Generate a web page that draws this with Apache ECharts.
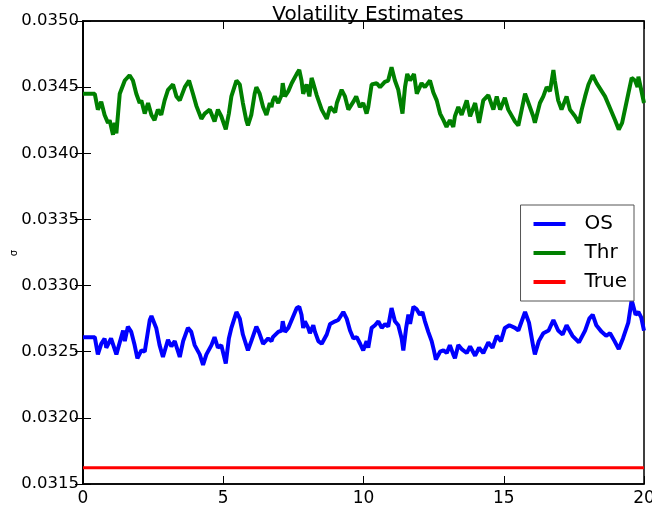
<!DOCTYPE html>
<html>
<head>
<meta charset="utf-8">
<script src="https://cdn.jsdelivr.net/npm/echarts@6/dist/echarts.min.js"></script>
<style>html,body{margin:0;padding:0;background:#fff;}#c{width:652px;height:506px;}</style>
</head>
<body>
<div id="c"></div>
<script>
const xTicks = [0, 5, 10, 15, 20];
const yTicks = [0.0315, 0.0320, 0.0325, 0.0330, 0.0335, 0.0340, 0.0345, 0.0350];

const osX = [0,0.42,0.53,0.65,0.77,0.83,1.0,1.19,1.43,1.49,1.6,1.72,1.84,1.94,2.08,2.2,2.38,2.44,2.61,2.73,2.85,3.03,3.15,3.27,3.45,3.57,3.74,3.86,3.98,4.16,4.28,4.4,4.58,4.69,4.81,4.93,5.09,5.2,5.29,5.47,5.59,5.7,5.88,6.0,6.18,6.27,6.42,6.6,6.72,6.77,6.96,7.08,7.12,7.2,7.32,7.44,7.62,7.71,7.79,7.85,7.91,8.03,8.09,8.21,8.27,8.39,8.51,8.69,8.81,8.99,9.1,9.28,9.4,9.52,9.64,9.76,9.88,9.99,10.11,10.17,10.29,10.41,10.53,10.65,10.77,10.88,11.0,11.12,11.24,11.36,11.42,11.52,11.6,11.66,11.78,11.9,12.01,12.1,12.19,12.31,12.43,12.51,12.58,12.73,12.85,12.97,13.08,13.2,13.26,13.38,13.5,13.68,13.8,13.98,14.12,14.27,14.45,14.6,14.75,14.9,15.04,15.2,15.4,15.52,15.76,15.9,16.05,16.11,16.25,16.41,16.6,16.77,16.94,17.1,17.24,17.45,17.68,17.9,18.05,18.17,18.3,18.49,18.65,18.79,18.95,19.1,19.25,19.44,19.56,19.7,19.8,19.9,20.0];
const osY = [0.03261,0.03261,0.03248,0.03256,0.03260,0.03253,0.03260,0.03248,0.03266,0.03258,0.03269,0.03265,0.03255,0.03245,0.03251,0.03250,0.03274,0.03277,0.03268,0.03255,0.03246,0.03259,0.03254,0.03258,0.03246,0.03258,0.03268,0.03265,0.03255,0.03248,0.03240,0.03248,0.03255,0.03261,0.03253,0.03255,0.03241,0.03260,0.03268,0.03280,0.03275,0.03263,0.03251,0.03258,0.03269,0.03265,0.03256,0.03260,0.03258,0.03261,0.03265,0.03266,0.03273,0.03265,0.03268,0.03274,0.03283,0.03284,0.03278,0.03268,0.03273,0.03268,0.03264,0.03270,0.03265,0.03258,0.03256,0.03263,0.03271,0.03273,0.03274,0.03280,0.03275,0.03266,0.03260,0.03261,0.03256,0.03251,0.03258,0.03253,0.03268,0.03270,0.03273,0.03268,0.03271,0.03269,0.03283,0.03273,0.03270,0.03260,0.03251,0.03268,0.03278,0.03271,0.03284,0.03282,0.03278,0.03280,0.03273,0.03265,0.03258,0.03251,0.03244,0.03250,0.03251,0.03249,0.03255,0.03248,0.03245,0.03255,0.03252,0.03249,0.03254,0.03247,0.03253,0.03249,0.03257,0.03253,0.03262,0.03258,0.03268,0.03270,0.03268,0.03266,0.03280,0.03272,0.03254,0.03248,0.03258,0.03264,0.03266,0.03274,0.03266,0.03263,0.03270,0.03262,0.03257,0.03266,0.03275,0.03278,0.03270,0.03265,0.03262,0.03264,0.03258,0.03252,0.03260,0.03272,0.03289,0.03278,0.03280,0.03276,0.03266];

const thrX = [0,0.42,0.53,0.65,0.77,0.89,0.95,1.07,1.13,1.19,1.31,1.49,1.66,1.78,1.9,2.02,2.08,2.2,2.32,2.44,2.55,2.67,2.79,2.91,3.03,3.21,3.33,3.45,3.63,3.78,3.92,4.04,4.22,4.34,4.52,4.69,4.81,4.93,5.09,5.2,5.29,5.47,5.59,5.7,5.82,5.88,6.0,6.12,6.18,6.3,6.42,6.54,6.66,6.72,6.77,6.84,6.96,7.08,7.12,7.2,7.32,7.44,7.62,7.71,7.79,7.85,7.97,8.07,8.15,8.21,8.33,8.51,8.69,8.81,8.99,9.05,9.22,9.34,9.46,9.64,9.74,9.87,9.99,10.11,10.17,10.29,10.47,10.59,10.76,10.88,11.0,11.12,11.24,11.39,11.48,11.56,11.66,11.8,11.9,12.07,12.19,12.37,12.49,12.61,12.73,12.85,12.96,13.08,13.2,13.26,13.38,13.5,13.68,13.8,13.98,14.12,14.27,14.45,14.63,14.75,14.87,15.04,15.16,15.4,15.52,15.64,15.76,15.88,16.05,16.11,16.29,16.41,16.53,16.65,16.77,16.82,16.94,17.06,17.24,17.36,17.54,17.68,17.78,17.9,18.02,18.17,18.31,18.49,18.61,18.79,18.97,19.1,19.22,19.34,19.44,19.56,19.68,19.77,19.8,19.9,20.0];
const thrY = [0.03445,0.03445,0.03433,0.03439,0.03429,0.03423,0.03425,0.03414,0.03423,0.03415,0.03445,0.03455,0.03459,0.03455,0.03445,0.03438,0.03440,0.03430,0.03438,0.03429,0.03425,0.03433,0.03429,0.03440,0.03448,0.03452,0.03443,0.03440,0.03450,0.03455,0.03445,0.03436,0.03426,0.03430,0.03433,0.03424,0.03433,0.03428,0.03418,0.03430,0.03443,0.03455,0.03452,0.03438,0.03425,0.03421,0.03429,0.03445,0.03450,0.03445,0.03435,0.03429,0.03438,0.03435,0.03440,0.03443,0.03438,0.03444,0.03453,0.03443,0.03447,0.03453,0.03460,0.03463,0.03455,0.03445,0.03452,0.03443,0.03457,0.03453,0.03444,0.03433,0.03426,0.03435,0.03431,0.03438,0.03448,0.03443,0.03433,0.03439,0.03443,0.03435,0.03438,0.03430,0.03435,0.03452,0.03453,0.03450,0.03454,0.03455,0.03465,0.03455,0.03448,0.03430,0.03450,0.03460,0.03455,0.03460,0.03445,0.03453,0.03450,0.03455,0.03446,0.03440,0.03430,0.03425,0.03420,0.03425,0.03420,0.03428,0.03435,0.03429,0.03440,0.03428,0.03438,0.03423,0.03440,0.03444,0.03433,0.03443,0.03433,0.03442,0.03433,0.03424,0.03421,0.03433,0.03445,0.03438,0.03428,0.03423,0.03438,0.03443,0.03450,0.03447,0.03463,0.03455,0.03440,0.03433,0.03443,0.03433,0.03428,0.03423,0.03433,0.03443,0.03452,0.03459,0.03453,0.03447,0.03443,0.03434,0.03425,0.03418,0.03423,0.03435,0.03445,0.03457,0.03455,0.03450,0.03458,0.03448,0.03438];

const trueX = [0, 20];
const trueY = [0.0316228, 0.0316228];

const zip = (a, b) => a.map((v, i) => [v, b[i]]);
const font = 'DejaVu Sans';

const chart = echarts.init(document.getElementById('c'), null, {renderer: 'canvas'});
const tickStyle = {show: true, inside: true, length: 8, lineStyle: {color: '#000', width: 1}};
chart.setOption({
  animation: false,
  backgroundColor: '#fff',
  title: {
    text: 'Volatility Estimates', left: 363, top: 0, textAlign: 'center',
    textStyle: {fontFamily: font, fontSize: 20, fontWeight: 'normal', color: '#000'}
  },
  graphic: [{
    type: 'text', x: 14, y: 253, rotation: Math.PI / 2,
    style: {text: 'σ', fontFamily: font, fontSize: 10, fill: '#000', align: 'center', verticalAlign: 'middle'}
  }],
  grid: {left: 83, right: 8, top: 21, bottom: 22, containLabel: false, outerBoundsMode: 'none',
    show: true, borderColor: '#000', borderWidth: 1.5, backgroundColor: 'transparent'},
  legend: {
    orient: 'vertical', right: 18, top: 205,
    backgroundColor: '#fff', borderColor: '#555', borderWidth: 1,
    padding: [9, 7, 9, 13], itemGap: 9, itemWidth: 32, itemHeight: 4,
    icon: 'rect',
    textStyle: {fontFamily: font, fontSize: 20, color: '#000', padding: [0, 0, 0, 14]},
    data: ['OS', 'Thr', 'True']
  },
  xAxis: [{
    type: 'value', min: xTicks[0], max: xTicks[xTicks.length - 1], interval: 5,
    axisLine: {show: true, lineStyle: {color: '#000', width: 1.5}},
    axisTick: tickStyle,
    axisLabel: {fontFamily: font, fontSize: 17, color: '#000', margin: 6},
    splitLine: {show: false}
  }, {
    type: 'value', position: 'top', min: xTicks[0], max: xTicks[xTicks.length - 1], interval: 5,
    axisLine: {show: true, lineStyle: {color: '#000', width: 1.5}},
    axisTick: tickStyle, axisLabel: {show: false}, splitLine: {show: false}
  }],
  yAxis: [{
    type: 'value', min: yTicks[0], max: yTicks[yTicks.length - 1], interval: 0.0005,
    axisLine: {show: true, lineStyle: {color: '#000', width: 1.5}},
    axisTick: tickStyle,
    axisLabel: {fontFamily: font, fontSize: 16.5, color: '#000', margin: 4, formatter: v => v.toFixed(4)},
    splitLine: {show: false}
  }, {
    type: 'value', position: 'right', min: yTicks[0], max: yTicks[yTicks.length - 1], interval: 0.0005,
    axisLine: {show: true, lineStyle: {color: '#000', width: 1.5}},
    axisTick: tickStyle, axisLabel: {show: false}, splitLine: {show: false}
  }],
  series: [
    {name: 'OS', type: 'line', data: zip(osX, osY), showSymbol: false, color: '#0000ff', lineStyle: {color: '#0000ff', width: 4}},
    {name: 'Thr', type: 'line', data: zip(thrX, thrY), showSymbol: false, color: '#008000', lineStyle: {color: '#008000', width: 4}},
    {name: 'True', type: 'line', data: zip(trueX, trueY), showSymbol: false, color: '#ff0000', lineStyle: {color: '#ff0000', width: 3}}
  ]
});
</script>
</body>
</html>
